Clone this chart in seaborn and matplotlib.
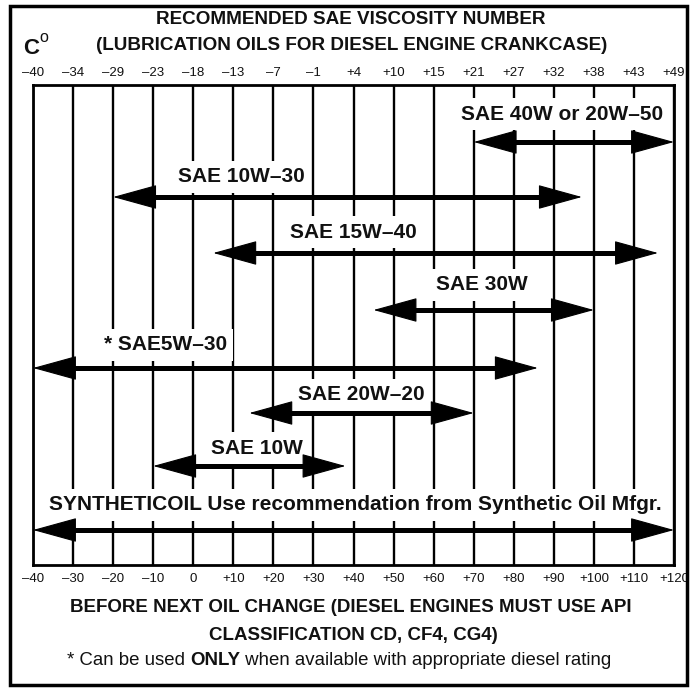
import matplotlib
matplotlib.use("Agg")
import matplotlib.pyplot as plt
import seaborn as sns
import pandas as pd
from matplotlib import font_manager
from matplotlib.patches import Rectangle

# Temperature scales (Fahrenheit gridlines, Celsius equivalents on top)
fahrenheit_ticks = list(range(-40, 121, 10))
fahrenheit_labels = ["–40", "–30", "–20", "–10", "0", "+10", "+20", "+30", "+40",
                     "+50", "+60", "+70", "+80", "+90", "+100", "+110", "+120"]
celsius_labels = ["–40", "–34", "–29", "–23", "–18", "–13", "–7", "–1", "+4",
                  "+10", "+15", "+21", "+27", "+32", "+38", "+43", "+49"]

# Oil grades and their usable temperature ranges (°F)
grades = ["SAE 40W or 20W–50", "SAE 10W–30", "SAE 15W–40", "SAE 30W",
          "* SAE5W–30", "SAE 20W–20", "SAE 10W",
          "SYNTHETICOIL Use recommendation from Synthetic Oil Mfgr."]
low_f = [70, -20, 5, 45, -40, 14, -10, -40]
high_f = [120, 97, 116, 100, 86, 70, 38, 120]

df = pd.DataFrame({"grade": grades, "low": low_f, "high": high_f})

sns.set_theme(style="white")
names = {f.name for f in font_manager.fontManager.ttflist}
narrow = "Liberation Sans Narrow" if "Liberation Sans Narrow" in names else "Liberation Sans"
plt.rcParams["font.family"] = ["Liberation Sans", "DejaVu Sans"]
INK = "#111111"

W, H = 693, 689
fig = plt.figure(figsize=(W / 100, H / 100), dpi=100)
fig.patch.set_facecolor("white")

# plot box in pixel units: x 33..674, y 85..565
left, right, top, bottom = 33, 674, 85, 565
ax = fig.add_axes([left / W, (H - bottom) / H, (right - left) / W, (bottom - top) / H])
ax.set_xlim(-40, 120)
ax.set_ylim(bottom, top)
for s in ax.spines.values():
    s.set_linewidth(2)
    s.set_color("black")
    s.set_zorder(6)

# vertical gridlines at every 10 °F
ax.vlines(fahrenheit_ticks, top, bottom, colors="black", linewidth=1.7, zorder=1)

# bottom Fahrenheit labels
ax.set_xticks(fahrenheit_ticks)
ax.set_xticklabels(fahrenheit_labels, fontsize=9.5, family=narrow)
ax.tick_params(axis="x", length=0, pad=6, colors=INK)
ax.set_yticks([])

# top Celsius labels
top_ax = ax.secondary_xaxis("top")
top_ax.set_xticks(fahrenheit_ticks)
top_ax.set_xticklabels(celsius_labels, fontsize=9.5, family=narrow)
top_ax.tick_params(axis="x", length=0, pad=4, colors=INK)
top_ax.spines["top"].set_visible(False)

# row layout (pixel y of each arrow and its label, label centre in °F)
row_y = [142, 197, 253, 310, 368, 413, 466, 530]
label_y = [114, 177, 232, 285, 345, 395, 448, 505]
label_x = [92, 12, 40, 72, -7, 42, 16, 40.5]
head_f = 10  # arrowhead length in °F

for i, r in df.iterrows():
    # thick shaft, stopping inside the heads
    ax.plot([r["low"] + head_f / 2, r["high"] - head_f / 2], [row_y[i], row_y[i]],
            color="black", lw=3.6, solid_capstyle="butt", zorder=5)
    # filled heads with their tips on the range ends
    ax.annotate("", xy=(r["high"], row_y[i]), xytext=(r["low"], row_y[i]),
                arrowprops=dict(arrowstyle="<|-|>,head_length=2.9,head_width=0.8",
                                mutation_scale=10, lw=0.8, color="black",
                                shrinkA=0, shrinkB=0), zorder=5)
    # grade label on a white patch that masks the gridlines behind it
    ax.text(label_x[i], label_y[i], r["grade"], ha="center", va="center",
            fontsize=15, fontweight="bold", color=INK, zorder=4,
            bbox=dict(boxstyle="square,pad=0.3", facecolor="white", edgecolor="none"))


def px(x, y):
    return x / W, 1 - y / H


# titles
fig.text(*px(351, 20), "RECOMMENDED SAE VISCOSITY NUMBER", ha="center", va="center",
         fontsize=13.6, fontweight="bold", family=narrow, color=INK)
fig.text(*px(352, 45), "(LUBRICATION OILS FOR DIESEL ENGINE CRANKCASE)", ha="center",
         va="center", fontsize=13.6, fontweight="bold", family=narrow, color=INK)
fig.text(*px(31, 48), "C", ha="center", va="center", fontsize=16, fontweight="bold",
         color=INK)
fig.text(*px(44, 37), "o", ha="center", va="center", fontsize=11.5, color=INK)

# footer
fig.text(*px(351, 607), "BEFORE NEXT OIL CHANGE (DIESEL ENGINES MUST USE API",
         ha="center", va="center", fontsize=13.5, fontweight="bold", family=narrow,
         color=INK)
fig.text(*px(353, 636), "CLASSIFICATION CD, CF4, CG4)", ha="center", va="center",
         fontsize=13.5, fontweight="bold", family=narrow, color=INK)

base = 1 - 665 / H
t1 = fig.text(67 / W, base, "* Can be used ", ha="left", va="baseline", fontsize=13.4,
              family=narrow, color=INK)
t2 = fig.text(0, base, "ONLY", ha="left", va="baseline", fontsize=13.4,
              fontweight="bold", family=narrow, color=INK)
t3 = fig.text(0, base, " when available with appropriate diesel rating", ha="left",
              va="baseline", fontsize=13.4, family=narrow, color=INK)
fig.canvas.draw()
rnd = fig.canvas.get_renderer()
b1 = t1.get_window_extent(rnd)
t2.set_x(b1.x1 / W)
b2 = t2.get_window_extent(rnd)
t3.set_x(b2.x1 / W)

# outer frame
fig.patches.append(Rectangle((10 / W, 1 - 685 / H), 677 / W, 679 / H,
                             transform=fig.transFigure, fill=False,
                             edgecolor="black", linewidth=2.5))

fig.savefig("out.png", dpi=100)
